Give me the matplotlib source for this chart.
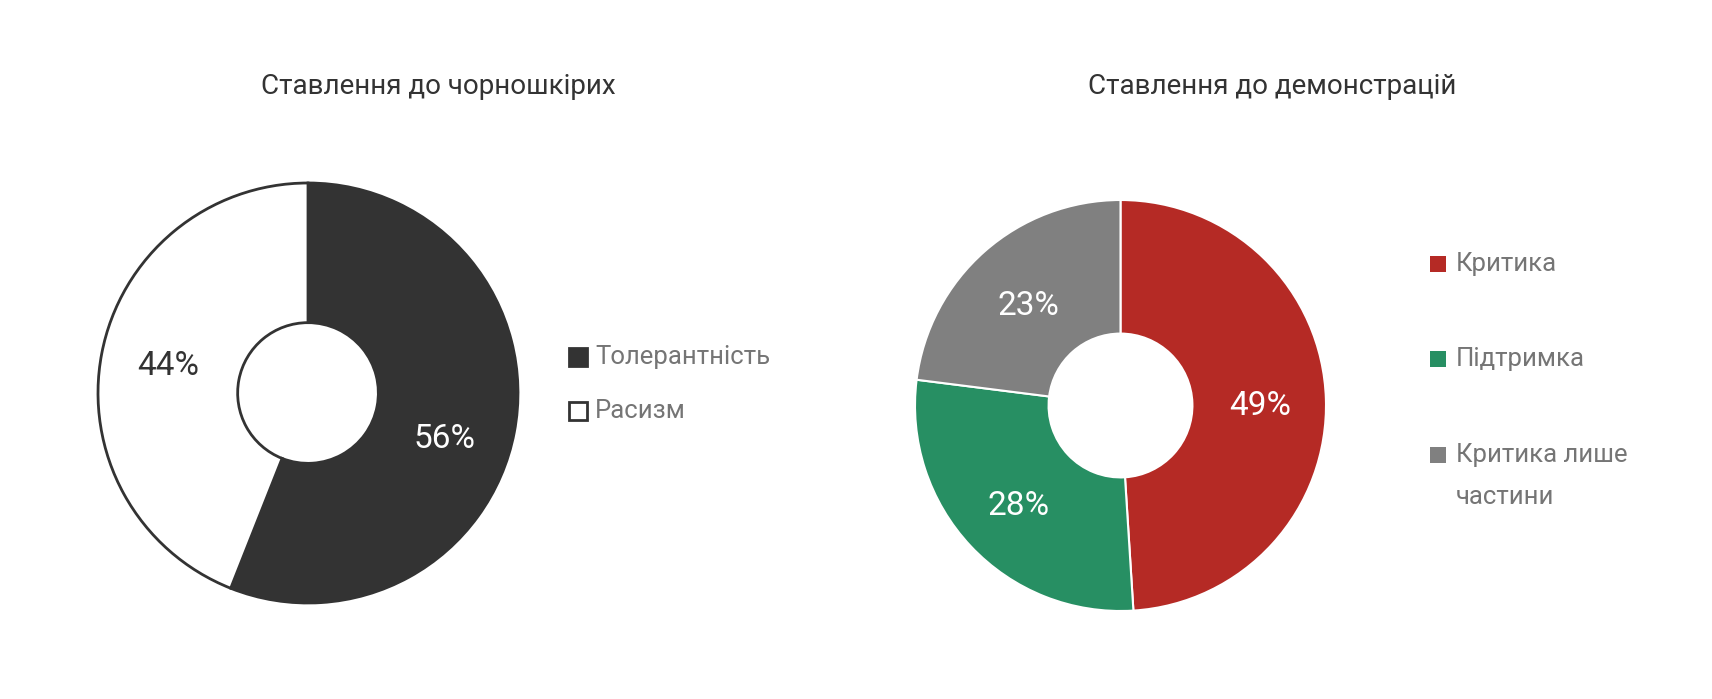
import matplotlib.pyplot as plt
from matplotlib.patches import Rectangle

plt.rcParams['font.family'] = ['Roboto', 'DejaVu Sans']

# data
title1 = "Ставлення до чорношкірих"
labels1 = ["Толерантність", "Расизм"]
values1 = [56, 44]
colors1 = ["#333333", "#ffffff"]

title2 = "Ставлення до демонстрацій"
labels2 = ["Критика", "Підтримка", "Критика лише\nчастини"]
values2 = [49, 28, 23]
colors2 = ["#b52a25", "#278f63", "#808080"]

W, H = 1712, 699
fig = plt.figure(figsize=(W / 100, H / 100), dpi=100)


def donut_axes(cx, cy, r):
    # cx, cy, r in pixels from top-left
    ax = fig.add_axes([(cx - r) / W, (H - cy - r) / H, 2 * r / W, 2 * r / H])
    return ax


def fix_limits(ax):
    ax.set_xlim(-1, 1)
    ax.set_ylim(-1, 1)
    ax.set_aspect('equal')
    ax.axis('off')


# left donut
ax1 = donut_axes(308, 393, 210)
w1, t1, a1 = ax1.pie(values1, colors=colors1, startangle=90, counterclock=False,
                     radius=1, autopct='%d%%', pctdistance=0.68,
                     wedgeprops=dict(width=0.665, edgecolor='#333333', linewidth=2),
                     textprops=dict(fontsize=24))
a1[0].set_color('white')
a1[1].set_color('#333333')
# google charts puts the big slice label a bit lower
x0, y0 = a1[0].get_position()
a1[0].set_position((x0 - 0.02, y0 - 0.09))
fix_limits(ax1)

# right donut
ax2 = donut_axes(1120.5, 405.5, 205.5)
w2, t2, a2 = ax2.pie(values2, colors=colors2, startangle=90, counterclock=False,
                     radius=1, autopct='%d%%', pctdistance=0.68,
                     wedgeprops=dict(width=0.65, edgecolor='white', linewidth=1.5),
                     textprops=dict(fontsize=24, color='white'))
for t in a2:
    x0, y0 = t.get_position()
    t.set_position((x0, y0 - 0.025))
fix_limits(ax2)

# titles
fig.text(438 / W, 1 - 87 / H, title1, ha='center', va='center', fontsize=20, color='#333333')
fig.text(1272 / W, 1 - 87 / H, title2, ha='center', va='center', fontsize=20, color='#333333')


# legends
def legend_item(x, y, size, color, edge, label, gap=8):
    fig.patches.append(Rectangle((x / W, 1 - (y + size / 2) / H), size / W, size / H,
                                 transform=fig.transFigure, facecolor=color,
                                 edgecolor=edge, linewidth=2 if edge != 'none' else 0))
    lines = label.split('\n')
    for i, line in enumerate(lines):
        fig.text((x + size + gap) / W, 1 - (y + 42 * i) / H, line, ha='left', va='center',
                 fontsize=18.5, color='#757575')


for lab, col, yy in zip(labels1, colors1, [357, 411]):
    legend_item(569, yy, 18, col, '#333333', lab)

for lab, col, yy in zip(labels2, colors2, [264, 359, 455]):
    legend_item(1430, yy, 16, col, 'none', lab, gap=10)

fig.savefig('out.png', dpi=100, facecolor='white')
